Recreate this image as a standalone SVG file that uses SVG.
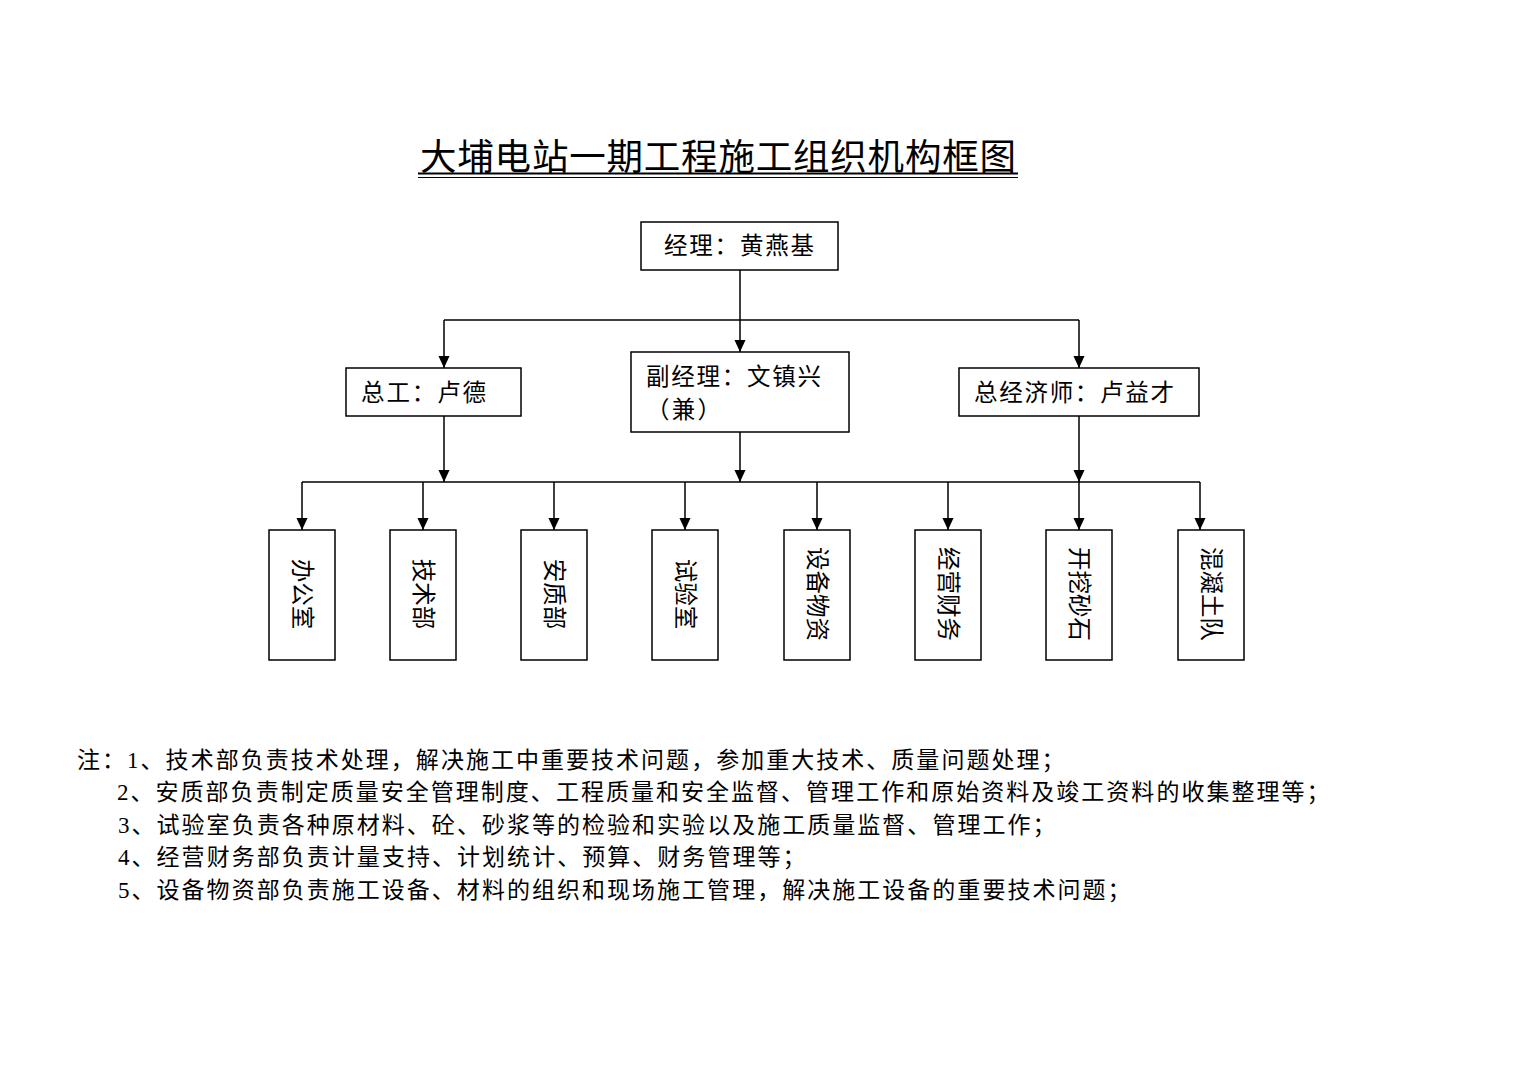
<svg xmlns="http://www.w3.org/2000/svg" width="1537" height="1087" viewBox="0 0 1537 1087">
<style>
.bg{fill:#ffffff}
.box{fill:#ffffff;stroke:#000000;stroke-width:1.5}
.t{font-family:"Liberation Serif","Noto Sans CJK SC",serif;fill:#000000;font-size:23.5px}
.title{font-family:"Liberation Serif","Noto Sans CJK SC",serif;fill:#000000;font-size:36.5px}
.note{font-family:"Liberation Serif","Noto Sans CJK SC",serif;fill:#000000;font-size:23px}
.ln{fill:none;stroke:#000000;stroke-width:1.5}
.arr{fill:none;stroke:#000000;stroke-width:1.5;marker-end:url(#ah)}
</style>
<defs>
<marker id="ah" markerUnits="userSpaceOnUse" markerWidth="12" markerHeight="13" refX="13" refY="6" orient="auto" viewBox="0 0 13 12">
<path d="M0,0 L13,6 L0,12 z" fill="#000000"/>
</marker>
</defs>
<rect class="bg" x="0" y="0" width="1537" height="1087"/>

<g id="title">
<text class="title" x="420" y="170" textLength="596" lengthAdjust="spacing">大埔电站一期工程施工组织机构框图</text>
<line x1="418" y1="173.5" x2="1018" y2="173.5" stroke="#000" stroke-width="2"/>
<line x1="418" y1="177.5" x2="1018" y2="177.5" stroke="#000" stroke-width="1"/>
</g>

<g id="connectors">
<line class="ln" x1="740" y1="270" x2="740" y2="320"/>
<line class="ln" x1="444" y1="320" x2="1079" y2="320"/>
<line class="arr" x1="444" y1="320" x2="444" y2="368"/>
<line class="arr" x1="740" y1="320" x2="740" y2="352"/>
<line class="arr" x1="1079" y1="320" x2="1079" y2="368"/>
<line class="arr" x1="444" y1="416" x2="444" y2="482"/>
<line class="arr" x1="740" y1="432" x2="740" y2="482"/>
<line class="arr" x1="1079" y1="416" x2="1079" y2="482"/>
<line class="ln" x1="302" y1="482" x2="1200" y2="482"/>
<line class="arr" x1="302" y1="482" x2="302" y2="530"/>
<line class="arr" x1="423" y1="482" x2="423" y2="530"/>
<line class="arr" x1="554" y1="482" x2="554" y2="530"/>
<line class="arr" x1="685" y1="482" x2="685" y2="530"/>
<line class="arr" x1="817" y1="482" x2="817" y2="530"/>
<line class="arr" x1="948" y1="482" x2="948" y2="530"/>
<line class="arr" x1="1079" y1="482" x2="1079" y2="530"/>
<line class="arr" x1="1200" y1="482" x2="1200" y2="530"/>
</g>

<g id="manager">
<rect class="box" x="641" y="222" width="197" height="48"/>
<text class="t" x="664" y="254" textLength="150" lengthAdjust="spacing">经理：黄燕基</text>
</g>
<g id="chief-engineer">
<rect class="box" x="346" y="368" width="175" height="48"/>
<text class="t" x="361" y="401" textLength="125" lengthAdjust="spacing">总工：卢德</text>
</g>
<g id="deputy-manager">
<rect class="box" x="631" y="352" width="218" height="80"/>
<text class="t" x="646" y="385" textLength="175" lengthAdjust="spacing">副经理：文镇兴</text>
<text class="t" x="646" y="418" textLength="75" lengthAdjust="spacing">（兼）</text>
</g>
<g id="chief-economist">
<rect class="box" x="959" y="368" width="240" height="48"/>
<text class="t" x="974" y="401" textLength="200" lengthAdjust="spacing">总经济师：卢益才</text>
</g>

<g id="office">
<rect class="box" x="269" y="530" width="66" height="130"/>
<text class="t" text-anchor="middle" transform="translate(293.5,594) rotate(90)">办公室</text>
</g>
<g id="tech-dept">
<rect class="box" x="390" y="530" width="66" height="130"/>
<text class="t" text-anchor="middle" transform="translate(414.5,594) rotate(90)">技术部</text>
</g>
<g id="safety-quality">
<rect class="box" x="521" y="530" width="66" height="130"/>
<text class="t" text-anchor="middle" transform="translate(545.5,594) rotate(90)">安质部</text>
</g>
<g id="lab">
<rect class="box" x="652" y="530" width="66" height="130"/>
<text class="t" text-anchor="middle" transform="translate(676.5,594) rotate(90)">试验室</text>
</g>
<g id="equipment">
<rect class="box" x="784" y="530" width="66" height="130"/>
<text class="t" text-anchor="middle" transform="translate(808.5,594) rotate(90)">设备物资</text>
</g>
<g id="finance">
<rect class="box" x="915" y="530" width="66" height="130"/>
<text class="t" text-anchor="middle" transform="translate(939.5,594) rotate(90)">经营财务</text>
</g>
<g id="excavation">
<rect class="box" x="1046" y="530" width="66" height="130"/>
<text class="t" text-anchor="middle" transform="translate(1070.5,594) rotate(90)">开挖砂石</text>
</g>
<g id="concrete">
<rect class="box" x="1178" y="530" width="66" height="130"/>
<text class="t" text-anchor="middle" transform="translate(1202.5,594) rotate(90)">混凝土队</text>
</g>

<g id="notes">
<text class="note" x="77" y="768" textLength="987.5" lengthAdjust="spacing">注：1、技术部负责技术处理，解决施工中重要技术问题，参加重大技术、质量问题处理；</text>
<text class="note" x="117" y="800" textLength="1212.5" lengthAdjust="spacing">2、安质部负责制定质量安全管理制度、工程质量和安全监督、管理工作和原始资料及竣工资料的收集整理等；</text>
<text class="note" x="118" y="833" textLength="937.5" lengthAdjust="spacing">3、试验室负责各种原材料、砼、砂浆等的检验和实验以及施工质量监督、管理工作；</text>
<text class="note" x="118" y="865" textLength="687.5" lengthAdjust="spacing">4、经营财务部负责计量支持、计划统计、预算、财务管理等；</text>
<text class="note" x="118" y="898" textLength="1012.5" lengthAdjust="spacing">5、设备物资部负责施工设备、材料的组织和现场施工管理，解决施工设备的重要技术问题；</text>
</g>
</svg>
